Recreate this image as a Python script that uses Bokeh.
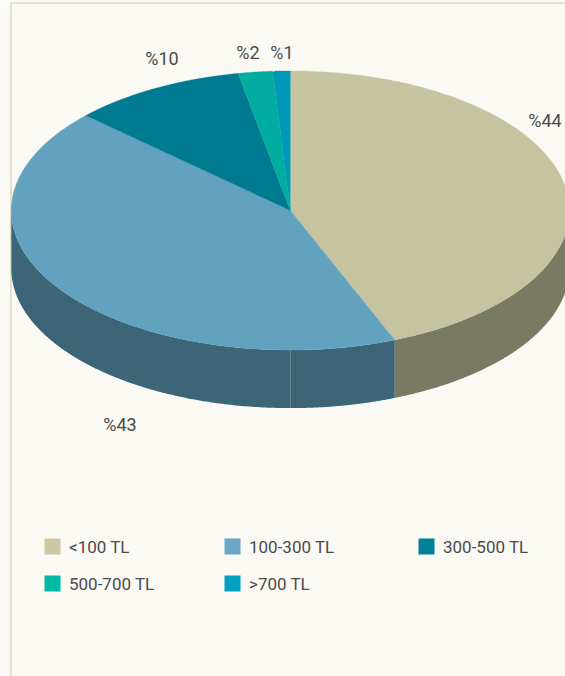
import numpy as np
from bokeh.embed import file_html
from bokeh.models import Range1d
from bokeh.plotting import figure
from bokeh.resources import INLINE
from bokeh.core.properties import value

categories = ["<100 TL", "100-300 TL", "300-500 TL", "500-700 TL", ">700 TL"]
shares = [43.9, 43.0, 10.1, 2.0, 1.0]
share_labels = ["%44", "%43", "%10", "%2", "%1"]
top_colors = ["#C6C3A0", "#63A2BE", "#007A90", "#00AD9F", "#0098B8"]
wall_colors = ["#797A64", "#3C6678", "#00505E", "#007068", "#006478"]
legend_colors = ["#CCC8A5", "#6BA8C3", "#00819A", "#00B9A7", "#00A0C0"]

BG = "#FAF9F4"
FONT = "Roboto"
TEXT = "#4A4A4A"
CX, CY, RX, RY, DEPTH = 289.8, 210.0, 279.0, 139.6, 58.0

p = figure(width=565, height=676, x_range=Range1d(0, 565), y_range=Range1d(676, 0),
           output_backend="svg", toolbar_location=None, min_border=0,
           background_fill_color=BG, border_fill_color=BG, outline_line_color=None)
p.axis.visible = False
p.grid.visible = False
p.styles = {"position": "absolute", "left": "0px", "top": "0px"}


def rim(a0, a1, n=160):
    t = np.radians(np.linspace(a0, a1, n))
    return CX + RX * np.sin(t), CY - RY * np.cos(t)


# frame
p.line([10.5, 10.5, 565], [676, 2.6, 2.6], line_color="#D9D9B8", line_width=1.4)

edges = np.cumsum([0] + shares) / sum(shares) * 360.0

# visible outer walls: the front half of the ellipse, split at the bottom
for i in range(len(shares)):
    a0, a1 = edges[i], edges[i + 1]
    parts = []
    lo, hi = max(a0, 90.0), min(a1, 270.0)
    if lo < hi:
        parts = [(lo, min(hi, 180.0)), (max(lo, 180.0), hi)]
    for s, e in parts:
        if s >= e:
            continue
        xs, ys = rim(s, e)
        p.patch(np.r_[xs, xs[::-1]], np.r_[ys, ys[::-1] + DEPTH],
                fill_color=wall_colors[i], line_color=None)
        p.line([xs[-1], xs[-1]], [ys[-1], ys[-1] + DEPTH], line_color="#7F9CA8",
               line_width=0.7, line_alpha=0.55)

# top surface
for i in range(len(shares)):
    xs, ys = rim(edges[i], edges[i + 1])
    p.patch(np.r_[CX, xs], np.r_[CY, ys], fill_color=top_colors[i],
            line_color=top_colors[i], line_width=0.3)

# share labels
lx = [544.5, 119.5, 161.5, 247.5, 281.5]
ly = [120, 424, 58, 52, 52]
p.text(lx, ly, text=share_labels, text_font=value(FONT), text_font_size="18px",
       text_color=TEXT, text_align="center", text_baseline="middle")

# legend
sq_x = [52, 232, 426, 52, 232]
sq_y = [546, 546, 546, 583, 583]
tx = [68.5, 248.5, 442.5, 68.5, 248.5]
p.rect(sq_x, sq_y, width=16, height=16, fill_color=legend_colors, line_color=None)
p.text(tx, sq_y, text=categories, text_font=value(FONT), text_font_size="17px",
       text_color=TEXT, text_align="left", text_baseline="middle")

open("out.html", "w").write(file_html(p, INLINE))
